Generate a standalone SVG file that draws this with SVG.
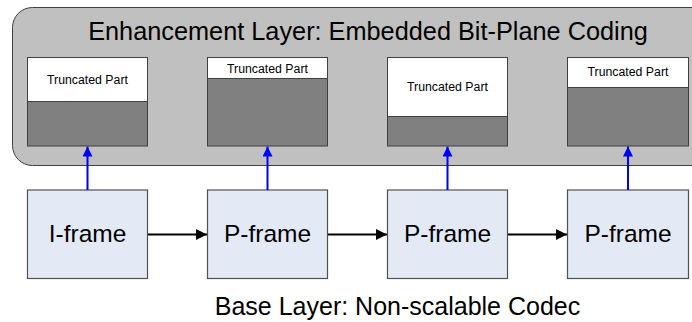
<svg xmlns="http://www.w3.org/2000/svg" width="692" height="322" viewBox="0 0 692 322">
<defs>
<marker id="ab" viewBox="0 0 10 10" refX="10" refY="5" markerWidth="5" markerHeight="5" orient="auto" markerUnits="strokeWidth"><path d="M0,0 L10,5 L0,10 z" fill="#0000ff"/></marker>
<marker id="ak" viewBox="0 0 10 10" refX="10" refY="5" markerWidth="5.5" markerHeight="5.5" orient="auto" markerUnits="strokeWidth"><path d="M0,0 L10,5 L0,10 z" fill="#000"/></marker>
</defs>
<style>
text{font-family:"Liberation Sans",Arial,sans-serif;fill:#000}
.layer{fill:#c0c0c0;stroke:#404040;stroke-width:1}
.trunc{fill:#fff;stroke:#404040;stroke-width:1}
.kept{fill:#808080;stroke:#404040;stroke-width:1}
.frame{fill:#e4eaf5;stroke:#505050;stroke-width:1.2}
.tp{font-size:12.3px;text-anchor:middle}
.fl{font-size:24.5px;text-anchor:middle}
.up{stroke:#0000ff;stroke-width:2;fill:none;marker-end:url(#ab)}
.fw{stroke:#000;stroke-width:2;fill:none;marker-end:url(#ak)}
</style>
<g id="enhancement-layer">
<rect class="layer" x="12.5" y="7.5" width="700" height="158" rx="20" ry="20"/>
<text x="368" y="39.5" font-size="25.3" text-anchor="middle">Enhancement Layer: Embedded Bit-Plane Coding</text>
</g>
<g id="ebp1">
<rect class="kept" x="27.5" y="57.5" width="120" height="88.5"/>
<rect class="trunc" x="27.5" y="57.5" width="120" height="44"/>
<text class="tp" x="87.5" y="84">Truncated Part</text>
</g>
<g id="ebp2">
<rect class="kept" x="207.5" y="57.5" width="120" height="88.5"/>
<rect class="trunc" x="207.5" y="57.5" width="120" height="21"/>
<text class="tp" x="267.5" y="72.5">Truncated Part</text>
</g>
<g id="ebp3">
<rect class="kept" x="387.5" y="57.5" width="120" height="88.5"/>
<rect class="trunc" x="387.5" y="57.5" width="120" height="59"/>
<text class="tp" x="447.5" y="91">Truncated Part</text>
</g>
<g id="ebp4">
<rect class="kept" x="567.5" y="57.5" width="121" height="88.5"/>
<rect class="trunc" x="567.5" y="57.5" width="121" height="30"/>
<text class="tp" x="628" y="76">Truncated Part</text>
</g>
<g id="f1">
<rect class="frame" x="27.5" y="190" width="120" height="88.5"/>
<text class="fl" x="87.5" y="242">I-frame</text>
</g>
<g id="f2">
<rect class="frame" x="207.5" y="190" width="120" height="88.5"/>
<text class="fl" x="267.5" y="242">P-frame</text>
</g>
<g id="f3">
<rect class="frame" x="387.5" y="190" width="120" height="88.5"/>
<text class="fl" x="447.5" y="242">P-frame</text>
</g>
<g id="f4">
<rect class="frame" x="567.5" y="190" width="121" height="88.5"/>
<text class="fl" x="628" y="242">P-frame</text>
</g>
<g id="connectors">
<line class="up" x1="87.5" y1="190" x2="87.5" y2="146.5"/>
<line class="up" x1="267.5" y1="190" x2="267.5" y2="146.5"/>
<line class="up" x1="447.5" y1="190" x2="447.5" y2="146.5"/>
<line class="up" x1="628" y1="190" x2="628" y2="146.5"/>
<line class="fw" x1="148" y1="234.5" x2="207" y2="234.5"/>
<line class="fw" x1="328" y1="234.5" x2="387" y2="234.5"/>
<line class="fw" x1="508" y1="234.5" x2="567" y2="234.5"/>
</g>
<text x="397.5" y="315" font-size="25" text-anchor="middle">Base Layer: Non-scalable Codec</text>
</svg>
